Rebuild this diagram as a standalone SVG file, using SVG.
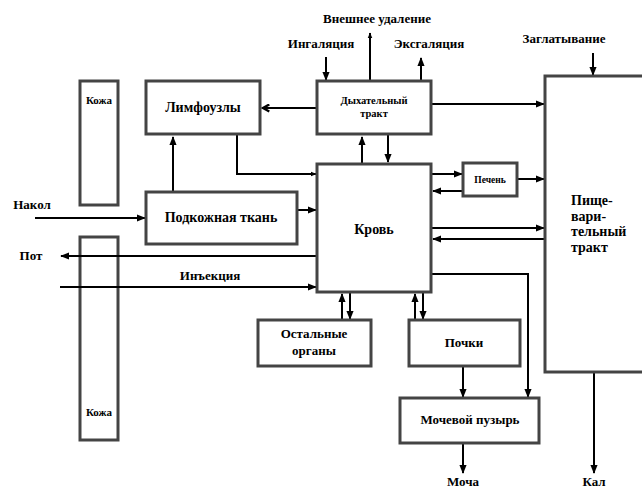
<svg xmlns="http://www.w3.org/2000/svg" width="642" height="488" viewBox="0 0 642 488">
<defs>
<marker id="ah" viewBox="0 0 10 10" refX="9" refY="5" markerWidth="4.5" markerHeight="4.5" orient="auto" markerUnits="strokeWidth"><path d="M0,1 L10,5 L0,9 z" fill="#000"/></marker>
<marker id="ahs" viewBox="0 0 10 10" refX="9" refY="5" markerWidth="3" markerHeight="3" orient="auto" markerUnits="strokeWidth"><path d="M0,1 L10,5 L0,9 z" fill="#000"/></marker>
<marker id="chev" viewBox="0 0 10 10" refX="8" refY="5" markerWidth="4.5" markerHeight="4.5" orient="auto" markerUnits="strokeWidth"><path d="M1,1 L8,5 L1,9" fill="none" stroke="#000" stroke-width="2.5"/></marker>
</defs>
<style>
.box{fill:#fff;stroke:#444;stroke-width:3}
.skin{fill:none;stroke:#444;stroke-width:3}
.t{font-family:"Liberation Serif",serif;font-weight:bold;fill:#000;text-anchor:middle}
.c{fill:none;stroke:#000;stroke-width:2}
.a{marker-end:url(#ah)}
</style>
<g id="skin-top"><rect class="skin" x="80" y="81" width="38" height="124"/><text class="t" x="99" y="104" font-size="11">Кожа</text></g>
<g id="skin-bottom"><rect class="skin" x="80" y="237" width="38" height="203"/><text class="t" x="99" y="416" font-size="11">Кожа</text></g>
<g id="connectors">
<path class="c" d="M317,108 H263" marker-end="url(#chev)"/>
<path class="c" d="M237,134 V174 H316" stroke-width="4" marker-end="url(#ahs)"/>
<path class="c a" d="M173,192 V137"/>
<path class="c a" d="M35,218 H145"/>
<path class="c a" d="M297,210 H316"/>
<path class="c a" d="M317,256 H61"/>
<path class="c a" d="M60,287 H316"/>
<path class="c a" d="M326,57 V80"/>
<path class="c" d="M370,81 V33" stroke-width="3" marker-end="url(#ahs)"/>
<path class="c a" d="M421,81 V58"/>
<path class="c a" d="M431,104 H544"/>
<path class="c a" d="M593,53 V75"/>
<path class="c a" d="M362,163 V137"/>
<path class="c a" d="M388,134 V162"/>
<path class="c a" d="M431,174 H462"/>
<path class="c a" d="M463,191 H433"/>
<path class="c a" d="M517,179 H544"/>
<path class="c a" d="M431,228 H544"/>
<path class="c a" d="M545,239 H433"/>
<path class="c a" d="M431,274 H528 V397"/>
<path class="c a" d="M342,320 V294"/>
<path class="c a" d="M350,292 V319"/>
<path class="c a" d="M415,320 V294"/>
<path class="c a" d="M423,292 V319"/>
<path class="c a" d="M463,366 V397"/>
<path class="c a" d="M463,443 V473"/>
<path class="c a" d="M594,372 V473"/>
</g>
<g id="lymph"><rect class="box" x="146" y="81" width="114" height="53"/><text class="t" x="203" y="112" font-size="14">Лимфоузлы</text></g>
<g id="resp"><rect class="box" x="317" y="81" width="114" height="53"/><text class="t" x="374" y="104" font-size="10.5">Дыхательный</text><text class="t" x="374" y="117" font-size="10.5">тракт</text></g>
<g id="subcut"><rect class="box" x="146" y="192" width="151" height="52"/><text class="t" x="221" y="222" font-size="14">Подкожная ткань</text></g>
<g id="blood"><rect class="box" x="317" y="164" width="114" height="128"/><text class="t" x="374" y="234" font-size="14">Кровь</text></g>
<g id="liver"><rect class="box" x="463" y="163" width="54" height="33"/><text class="t" x="490" y="183" font-size="9.5">Печень</text></g>
<g id="gi"><rect class="box" x="545" y="76" width="100" height="296"/><text class="t" font-size="14" style="text-anchor:start"><tspan x="571" y="205">Пище-</tspan><tspan x="571" y="221">вари-</tspan><tspan x="571" y="236">тельный</tspan><tspan x="571" y="252">тракт</tspan></text></g>
<g id="other"><rect class="box" x="258" y="320" width="113" height="46"/><text class="t" x="314" y="338" font-size="13">Остальные</text><text class="t" x="314" y="355" font-size="13">органы</text></g>
<g id="kidney"><rect class="box" x="409" y="320" width="111" height="46"/><text class="t" x="464" y="347" font-size="13">Почки</text></g>
<g id="bladder"><rect class="box" x="400" y="398" width="139" height="45"/><text class="t" x="470" y="424" font-size="13">Мочевой пузырь</text></g>
<g id="labels">
<text class="t" x="377" y="23" font-size="13">Внешнее удаление</text>
<text class="t" x="321" y="48" font-size="13">Ингаляция</text>
<text class="t" x="429" y="48" font-size="13">Эксгаляция</text>
<text class="t" x="564" y="43" font-size="13">Заглатывание</text>
<text class="t" x="32" y="209" font-size="13">Накол</text>
<text class="t" x="31" y="260" font-size="13">Пот</text>
<text class="t" x="210" y="280" font-size="13">Инъекция</text>
<text class="t" x="463" y="486" font-size="13">Моча</text>
<text class="t" x="594" y="486" font-size="13">Кал</text>
</g>
</svg>
